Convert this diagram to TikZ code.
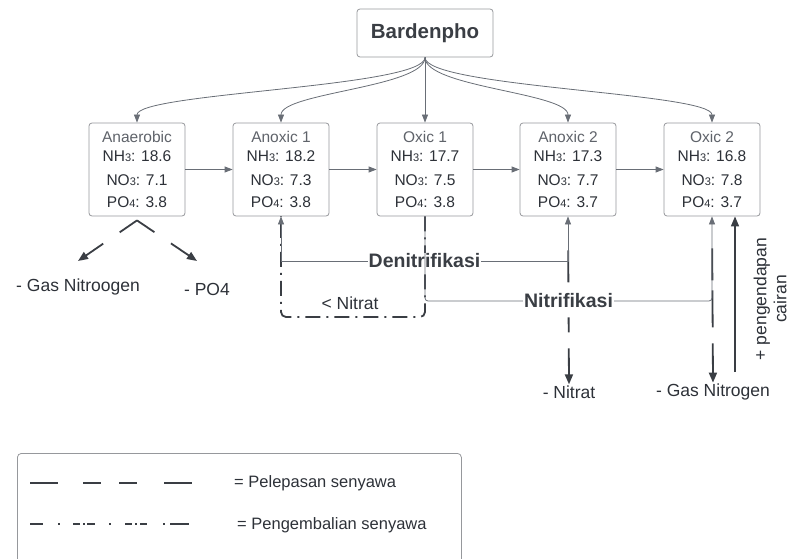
\documentclass[tikz,border=0pt]{standalone}
\usepackage{fontspec}
\setmainfont{Liberation Sans}
\usetikzlibrary{arrows.meta,positioning,calc}
\definecolor{lucidtext}{RGB}{45,49,56}
\definecolor{lucidtitle}{RGB}{95,99,106}
\definecolor{lucidline}{RGB}{105,110,118}
\definecolor{luciddark}{RGB}{58,62,68}
\definecolor{lucidborder}{RGB}{150,152,156}
\newcommand{\lowsub}[1]{{\fontsize{11}{11}\selectfont #1}}
\tikzset{
  stage/.style={rectangle, rounded corners=3pt, draw=lucidborder, line width=0.8pt,
                fill=white, minimum width=96pt, minimum height=93pt, inner sep=0pt,
                align=center, text=lucidtext, font=\fontsize{15.5}{19}\selectfont},
  headbox/.style={rectangle, rounded corners=3pt, draw=lucidborder, line width=0.8pt,
                  minimum width=136pt, minimum height=48pt, text=luciddark,
                  font=\fontsize{20.5}{24}\selectfont\bfseries},
  plabel/.style={text=lucidtext, inner sep=1pt, font=\fontsize{17.5}{20}\selectfont},
  procname/.style={fill=white, inner sep=1pt, text=luciddark,
                   font=\fontsize{19.5}{22}\selectfont\bfseries},
  flow/.style={-{Triangle[length=8pt,width=6pt]}, line width=0.8pt, lucidline},
  release/.style={-{Triangle[length=10pt,width=8pt]}, line width=1.8pt, luciddark},
  recycle/.style={line width=1.8pt, luciddark, rounded corners=5pt,
                  dash pattern=on 15pt off 6pt on 2pt off 6pt},
  legline/.style={line width=2pt, luciddark},
}
\begin{document}
\begin{tikzpicture}[x=1pt, y=-1pt]
  \useasboundingbox (0,0) rectangle (792,559);
  \clip (0,0) rectangle (792,559);
  % head and stages
  \node[headbox] (bard) at (425,33) {Bardenpho};
  \foreach \nm/\xx/\ttl/\nh/\no/\po in {anaer/137/Anaerobic/18.6/7.1/3.8,
      anox1/281/Anoxic 1/18.2/7.3/3.8, oxic1/425/Oxic 1/17.7/7.5/3.8,
      anox2/568/Anoxic 2/17.3/7.7/3.7, oxic2/712/Oxic 2/16.8/7.8/3.7} {
    \node[stage] (\nm) at (\xx,169.5)
      {{\color{lucidtitle}\ttl}\\NH\lowsub{3}: \nh\\[5pt]NO\lowsub{3}: \no\\[3pt]PO\lowsub{4}: \po};
  }
  \foreach \nm in {anaer,anox1,anox2,oxic2}
    \draw[flow] (bard.south) .. controls +(0,30) and +(0,-30) .. (\nm.north);
  \draw[flow] (bard) -- (oxic1);
  \foreach \a/\b in {anaer/anox1, anox1/oxic1, oxic1/anox2, anox2/oxic2}
    \draw[flow] (\a) -- (\b);

  % labels
  \node[plabel] (gasA) at (78,287) {- Gas Nitroogen};
  \node[plabel] (po4) at (207,289) {- PO4};
  \node[plabel] (nitratback) at (350,303) {< Nitrat};
  \node[plabel] (nitrat) at (569,392) {- Nitrat};
  \node[plabel] (gasB) at (713,392) {- Gas Nitrogen};
  \node[plabel, rotate=90, align=center] (cairan) at (770,299) {+ pengendapan\\cairan};
  \coordinate (denY) at (0,261);
  \coordinate (nitY) at (0,301);
  \coordinate (retY) at (0,317);
  \coordinate (vapex) at ([yshift=-4pt]anaer.south);
  \coordinate (gasAtip) at (78,261);
  \coordinate (po4tip) at (197,261);
  \coordinate (cairanFoot) at (735,372);

  % release and return
  \draw[release, dash pattern=on 21pt off 20pt on 60pt] (vapex) -- (gasAtip);
  \draw[release, dash pattern=on 21pt off 20pt on 60pt] (vapex) -- (po4tip);
  \draw[release, dash pattern=on 32pt off 35pt on 15pt off 16pt on 40pt off 34pt,
        dash phase=138pt] (anox2.south) -- (nitrat.north);
  \draw[release, dash pattern=on 32pt off 10pt on 37pt off 16pt on 40pt off 32pt,
        dash phase=135pt] (oxic2.south) -- (gasB.north);
  \draw[recycle] (oxic1.south) -- (oxic1.south |- retY) -- (anox1.south |- retY)
    -- (anox1.south);
  \draw[release, line width=1.5pt] (cairanFoot) -- (cairanFoot |- oxic2.south);

  % processes
  \draw[flow, {Triangle[length=8pt,width=6pt]}-{Triangle[length=8pt,width=6pt]}]
    (anox1.south) -- (anox1.south |- denY)
    -- node[procname] (denit) {Denitrifikasi} (anox2.south |- denY) -- (anox2.south);
  \draw[flow, rounded corners=3pt] (oxic1.south) -- (oxic1.south |- nitY)
    -- node[procname] (nitri) {Nitrifikasi} (oxic2.south |- nitY) -- (oxic2.south);

  % legend
  \node[draw=lucidborder, rounded corners=4pt, line width=0.8pt, minimum width=444pt,
        minimum height=130pt, anchor=north west] (legend) at (17,453) {};
  \coordinate (lgA) at (30,483);
  \coordinate (lgB) at (192,483);
  \coordinate (lgC) at (30,524);
  \coordinate (lgD) at (192,524);
  \draw[legline, dash pattern=on 28pt off 25pt on 18pt off 18pt on 18pt off 27pt on 28pt off 10pt]
    (lgA) -- (lgB);
  \draw[legline, dash pattern=on 13pt off 15pt on 2pt off 13pt on 7pt off 3pt on 2pt off 2pt
        on 8pt off 14pt on 2pt off 14pt on 7pt off 3pt on 2pt off 3pt on 7pt off 16pt on 2pt
        off 5pt on 19pt off 10pt] (lgC) -- (lgD);
  \node[plabel, anchor=west, font=\fontsize{16.5}{20}\selectfont] (legrel) at (233,483) {= Pelepasan senyawa};
  \node[plabel, anchor=west, font=\fontsize{16.5}{20}\selectfont] (legret) at (236,525) {= Pengembalian senyawa};
\end{tikzpicture}
\end{document}
